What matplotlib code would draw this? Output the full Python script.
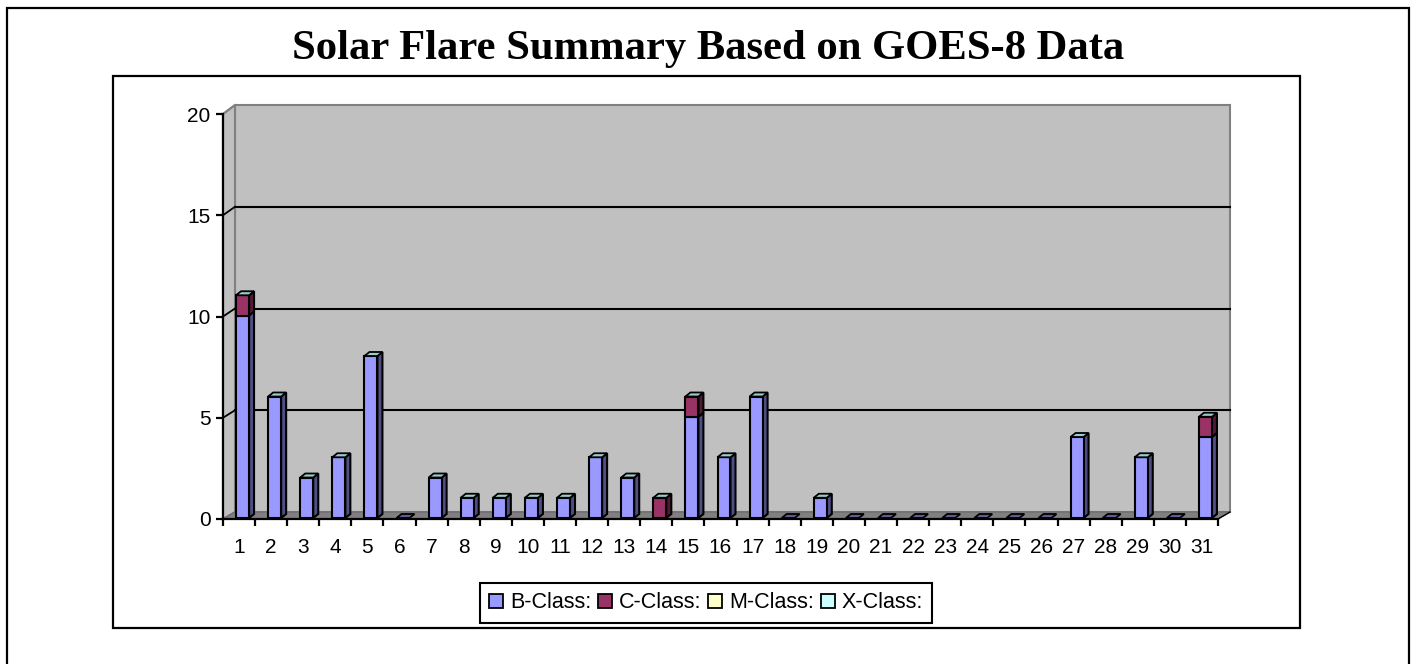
from matplotlib import pyplot as plt
from matplotlib.patches import Patch, Polygon, Rectangle

days = list(range(1, 32))
b_class = [10, 6, 2, 3, 8, 0, 2, 1, 1, 1, 1, 3, 2, 0, 5, 3, 6, 0, 1, 0, 0, 0, 0, 0, 0, 0, 4, 0, 3, 0, 4]
c_class = [1, 0, 0, 0, 0, 0, 0, 0, 0, 0, 0, 0, 0, 1, 1, 0, 0, 0, 0, 0, 0, 0, 0, 0, 0, 0, 0, 0, 0, 0, 1]
m_class = [0] * 31
x_class = [0] * 31
y_ticks = [0, 5, 10, 15, 20]
class_names = ["B-Class:", "C-Class:", "M-Class:", "X-Class:"]

W, H = 1415, 664
PX = 32.1    # pixels per day
PY = 20.25   # pixels per flare

plt.rcParams['font.family'] = ['Liberation Sans', 'DejaVu Sans']

fig = plt.figure(figsize=(W / 100, H / 100), dpi=100, facecolor='white')


# frame given in pixels of the picture
def frame(x0, y0, x1, y1):
    fig.add_artist(Rectangle((x0 / W, 1 - y1 / H), (x1 - x0) / W, (y1 - y0) / H,
                             transform=fig.transFigure, fill=False, edgecolor='black', linewidth=1.6))


frame(7, 8, 1409, 680)  # bottom edge falls outside the picture
frame(113, 76, 1300, 628)

fig.text(708 / W, 1 - 59 / H, "Solar Flare Summary Based on GOES-8 Data", family='Liberation Serif',
         fontweight='bold', fontsize=30.7, ha='center', va='baseline')

ax = fig.add_axes([223 / W, 1 - 519 / H, 995 / W, 405 / H])
ax.set_xlim(0.5, 31.5)
ax.set_ylim(0, 20)
ax.patch.set_visible(False)
for side in ['top', 'right']:
    ax.spines[side].set_visible(False)
for side in ['left', 'bottom']:
    ax.spines[side].set_linewidth(1.6)
    ax.spines[side].set_zorder(20)

# back wall, side wall and floor
wall_dx = 12 / PX
wall_dy = 7 / PY
wall_top = 20 + 9 / PY
left, right = 0.5, 31.5


def wall_y(v):
    return wall_dy + v * (wall_top - wall_dy) / 20


ax.add_patch(Polygon([(left + wall_dx, wall_dy), (right + wall_dx, wall_dy), (right + wall_dx, wall_top),
                      (left + wall_dx, wall_top)], facecolor='#C0C0C0', edgecolor='#808080', linewidth=1.5,
                     clip_on=False, zorder=1))
ax.add_patch(Polygon([(left, 0), (left + wall_dx, wall_dy), (left + wall_dx, wall_top), (left, 20)],
                     facecolor='#C0C0C0', edgecolor='#808080', linewidth=1.5, clip_on=False, zorder=1))
ax.add_patch(Polygon([(left, 0), (left + wall_dx, wall_dy), (right + wall_dx, wall_dy), (right, 0)],
                     facecolor='#808080', edgecolor='#6E6E6E', linewidth=1, clip_on=False, zorder=2))
ax.plot([right, right + wall_dx], [0, wall_dy], color='black', linewidth=1, clip_on=False, zorder=3)

for v in y_ticks[1:]:
    if v < 20:
        ax.plot([left + wall_dx, right + wall_dx], [wall_y(v), wall_y(v)], color='black', linewidth=1.5,
                clip_on=False, zorder=3)
    ax.plot([left, left + wall_dx], [v, wall_y(v)], color='black' if v < 20 else '#808080', linewidth=1.3,
            clip_on=False, zorder=3)

# bars, the front is a real bar, side and top follow it
bar_w = 13 / PX
bar_shift = 3.5 / PX
base = 1 / PY
dep_x = 5 / PX
dep_y = 4 / PY

bottoms = [base] * 31
series = [(b_class, '#9999FF', '#4F4F85'), (c_class, '#993366', '#4F1A35')]
for values, col, dark in series:
    xs = [d + bar_shift for d, v in zip(days, values) if v > 0]
    hs = [v for v in values if v > 0]
    bs = [b for b, v in zip(bottoms, values) if v > 0]
    ax.bar(xs, hs, width=bar_w, bottom=bs, color=col, edgecolor='black', linewidth=1.5, zorder=6)
    for x, h, b in zip(xs, hs, bs):
        xr = x + bar_w / 2
        ax.add_patch(Polygon([(xr, b), (xr + dep_x, b + dep_y), (xr + dep_x, b + h + dep_y), (xr, b + h)],
                             facecolor=dark, edgecolor='black', linewidth=1.5, clip_on=False, zorder=5))
    bottoms = [b + v for b, v in zip(bottoms, values)]

for d, b, c, m, xc in zip(days, b_class, c_class, m_class, x_class):
    total = b + c + m + xc
    x = d + bar_shift
    y = base + total
    top_col = '#99CCCC' if total > 0 else '#5C5C99'
    ax.add_patch(Polygon([(x - bar_w / 2, y), (x + bar_w / 2, y), (x + bar_w / 2 + dep_x, y + dep_y),
                          (x - bar_w / 2 + dep_x, y + dep_y)], facecolor=top_col, edgecolor='black',
                         linewidth=1.3, clip_on=False, zorder=7))

ax.set_xticks(days)
ax.set_xticklabels([str(d) for d in days], fontsize=15)
ax.tick_params(axis='x', which='major', length=0, pad=14)
ax.set_xticks([d + 0.5 for d in [0] + days], minor=True)
ax.tick_params(axis='x', which='minor', length=5, width=1.6, color='black')
ax.set_yticks(y_ticks)
ax.set_yticklabels([str(v) for v in y_ticks], fontsize=15)
ax.tick_params(axis='y', length=5, width=1.6, pad=4)

handles = [Patch(facecolor=c, edgecolor='black', linewidth=1.3, label=n)
           for c, n in zip(['#9999FF', '#993366', '#FFFFCC', '#CCFFFF'], class_names)]
leg = fig.legend(handles=handles, ncol=4, loc='center', bbox_to_anchor=(706 / W, 1 - 603 / H),
                 bbox_transform=fig.transFigure, fontsize=15.5, frameon=True, fancybox=False,
                 framealpha=1, edgecolor='black', handlelength=0.65, handleheight=0.65,
                 handletextpad=0.3, columnspacing=0.33, borderpad=0.42, borderaxespad=0)
leg.get_frame().set_linewidth(1.5)

fig.savefig('out.png', dpi=100)
